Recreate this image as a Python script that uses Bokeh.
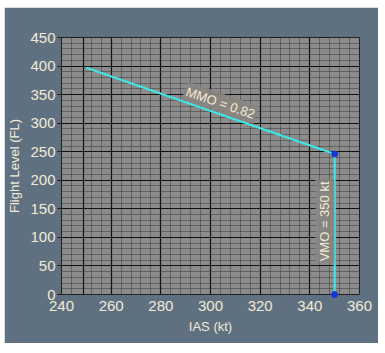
from bokeh.plotting import figure
from bokeh.models import FixedTicker, Label
from bokeh.embed import file_html
from bokeh.resources import INLINE
import math

# Data
mmo_ias = [250, 350]
mmo_fl = [397, 246]
vmo_ias = [350, 350]
vmo_fl = [246, 0]
point_ias = [350, 350]
point_fl = [246, 0]
x_ticks = [240, 260, 280, 300, 320, 340, 360]
y_ticks = [0, 50, 100, 150, 200, 250, 300, 350, 400, 450]
mmo_text = "MMO = 0.82"
vmo_text = "VMO = 350 kt"

TXT = "#f3ead6"
FONT = "Liberation Sans"

p = figure(width=374, height=336, x_range=(240, 360), y_range=(0, 450),
           output_backend="svg", toolbar_location=None,
           min_border_left=10, min_border_right=19, min_border_top=30, min_border_bottom=49,
           background_fill_color="#8b8b8b", border_fill_color="#5f7181",
           outline_line_color="#202020")
p.margin = (7, 7, 10, 4)

# grid (graph-paper look)
minor_x = [t for t in range(240, 361, 4) if t not in (248,)]
p.xgrid.ticker = FixedTicker(ticks=[249, 260, 280, 300, 320, 340, 360], minor_ticks=minor_x)
p.ygrid.ticker = FixedTicker(ticks=y_ticks, minor_ticks=list(range(0, 451, 10)))
for g in (p.xgrid, p.ygrid):
    g.grid_line_color = "#111111"
    g.grid_line_width = 1.2
    g.minor_grid_line_color = "#2a2a2a"
    g.minor_grid_line_alpha = 0.42
    g.minor_grid_line_width = 1

# axes
p.xaxis.ticker = x_ticks
p.yaxis.ticker = y_ticks
p.xaxis.axis_label = "IAS (kt)"
p.yaxis.axis_label = "Flight Level (FL)"
for ax in (p.xaxis, p.yaxis):
    ax.major_label_text_color = TXT
    ax.major_label_text_font = FONT
    ax.major_label_text_font_size = "15px"
    ax.axis_label_text_color = TXT
    ax.axis_label_text_font = FONT
    ax.axis_label_text_font_size = "13px"
    ax.axis_label_text_font_style = "normal"
    ax.minor_tick_line_color = None
    ax.major_tick_in = 0
p.xaxis.axis_line_color = None
p.xaxis.major_tick_line_color = None
p.xaxis.major_tick_out = 0
p.xaxis.major_label_standoff = 6
p.xaxis.axis_label_standoff = 5
p.yaxis.axis_line_color = "#202020"
p.yaxis.major_tick_line_color = "#202020"
p.yaxis.major_tick_out = 4
p.yaxis.major_label_standoff = 2
p.yaxis.axis_label_standoff = 5

# lines
p.line(mmo_ias, mmo_fl, line_color="#3fe6e6", line_width=2.2)
p.line(vmo_ias, vmo_fl, line_color="#3fe6e6", line_width=2.2)
p.scatter(point_ias, point_fl, size=6, fill_color="#1536d8", line_color="#1536d8",
          level="overlay")

# labels
ang = -math.radians(19.1)
mx = (mmo_ias[0] + mmo_ias[1]) / 2 + 4
my = mmo_fl[0] + (mmo_fl[1] - mmo_fl[0]) * (mx - mmo_ias[0]) / (mmo_ias[1] - mmo_ias[0]) + 20
p.add_layout(Label(x=mx, y=my, text=mmo_text, angle=ang,
                   text_align="center", text_baseline="middle",
                   text_color=TXT, text_font=FONT, text_font_size="13px",
                   background_fill_color="#8a8580", background_fill_alpha=0.9,
                   padding=2))
p.add_layout(Label(x=vmo_ias[0] - 4, y=128, text=vmo_text, angle=math.pi / 2,
                   text_align="center", text_baseline="middle",
                   text_color=TXT, text_font=FONT, text_font_size="13px",
                   background_fill_color="#8a8580", background_fill_alpha=0.9,
                   padding=2))

open("out.html", "w").write(file_html(p, INLINE))
